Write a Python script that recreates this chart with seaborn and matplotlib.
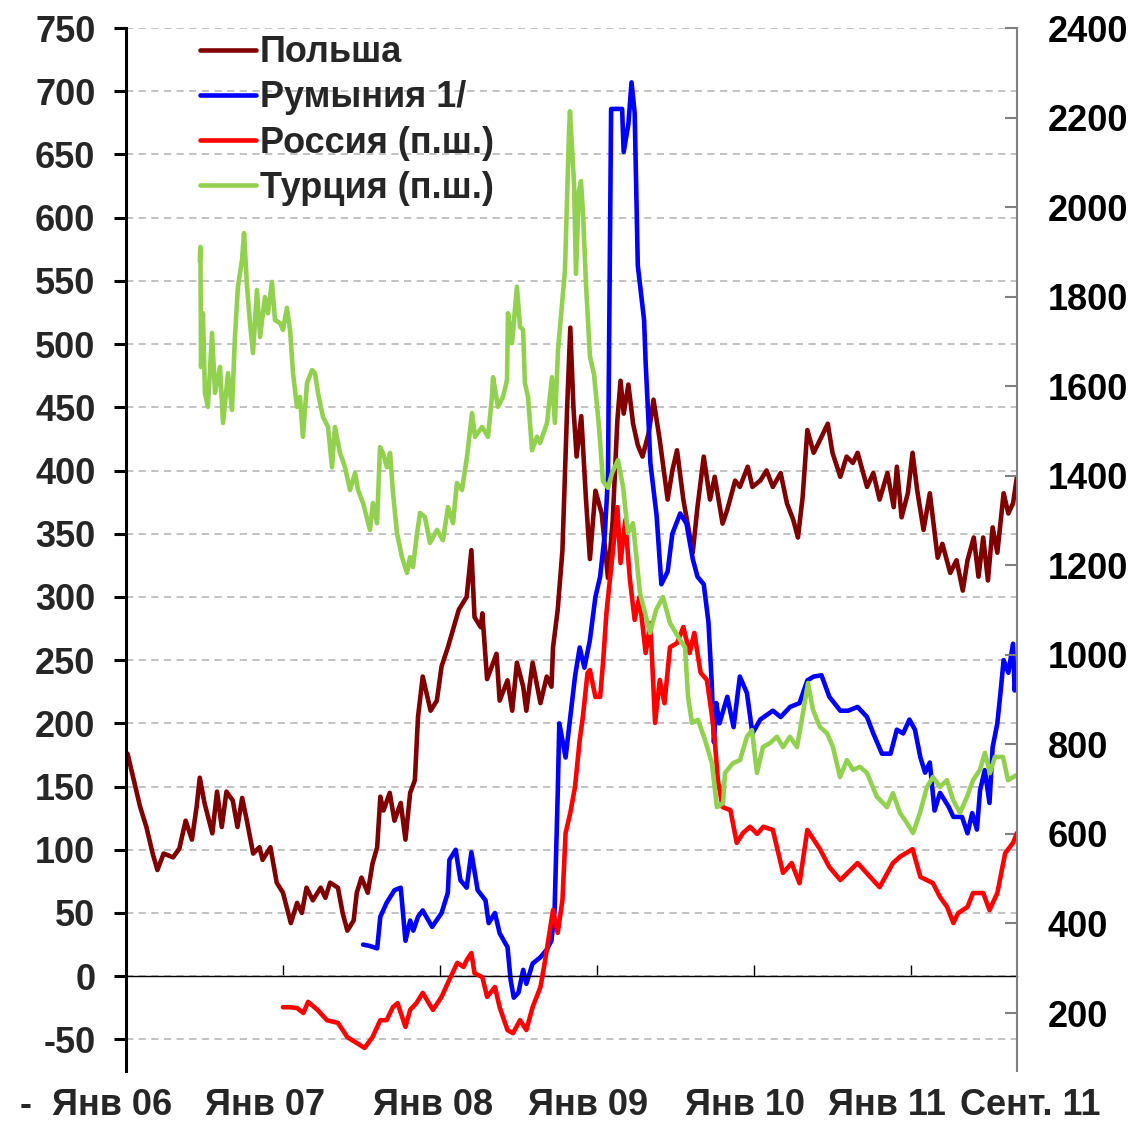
import numpy as np
import seaborn as sns
import matplotlib.pyplot as plt
import matplotlib.transforms as mtransforms

# Poland (left axis)
poland_t = [2006.01, 2006.05, 2006.09, 2006.13, 2006.17, 2006.20, 2006.24, 2006.30, 2006.34, 2006.38,
            2006.42, 2006.45, 2006.47, 2006.50, 2006.55, 2006.58, 2006.61, 2006.64, 2006.68, 2006.71,
            2006.74, 2006.77, 2006.81, 2006.85, 2006.87, 2006.92, 2006.96, 2007.00, 2007.05, 2007.09,
            2007.12, 2007.15, 2007.19, 2007.24, 2007.27, 2007.30, 2007.35, 2007.38, 2007.41, 2007.45,
            2007.47, 2007.50, 2007.54, 2007.57, 2007.60, 2007.62, 2007.64, 2007.68, 2007.71, 2007.75,
            2007.78, 2007.81, 2007.84, 2007.86, 2007.89, 2007.94, 2007.98, 2008.01, 2008.05, 2008.12,
            2008.17, 2008.20, 2008.22, 2008.26, 2008.27, 2008.30, 2008.36, 2008.38, 2008.43, 2008.46,
            2008.49, 2008.53, 2008.55, 2008.59, 2008.64, 2008.68, 2008.71, 2008.72, 2008.75, 2008.78,
            2008.79, 2008.81, 2008.83, 2008.85, 2008.87, 2008.90, 2008.93, 2008.955, 2008.99, 2009.03,
            2009.07, 2009.10, 2009.13, 2009.15, 2009.17, 2009.20, 2009.23, 2009.26, 2009.29, 2009.33,
            2009.36, 2009.40, 2009.45, 2009.48, 2009.51, 2009.55, 2009.61, 2009.64, 2009.68, 2009.72,
            2009.75, 2009.80, 2009.83, 2009.88, 2009.91, 2009.96, 2009.99, 2010.04, 2010.08, 2010.12,
            2010.17, 2010.21, 2010.25, 2010.28, 2010.31, 2010.34, 2010.38, 2010.42, 2010.47, 2010.50,
            2010.55, 2010.59, 2010.63, 2010.66, 2010.72, 2010.76, 2010.80, 2010.85, 2010.89, 2010.91,
            2010.94, 2010.98, 2011.01, 2011.04, 2011.08, 2011.12, 2011.17, 2011.20, 2011.25, 2011.29,
            2011.33, 2011.36, 2011.40, 2011.43, 2011.46, 2011.49, 2011.52, 2011.55, 2011.59, 2011.62,
            2011.65, 2011.675]
poland_v = [176, 155, 134, 118, 97, 84, 97, 94, 101, 123,
            108, 134, 157, 137, 113, 146, 118, 146, 139, 118,
            141, 123, 97, 102, 92, 102, 74, 66, 42, 58,
            50, 70, 60, 70, 62, 74, 70, 50, 36, 44,
            66, 78, 66, 89, 102, 142, 131, 145, 123, 137,
            108, 145, 155, 205, 237, 210, 218, 245, 260, 290,
            300, 337, 284, 276, 287, 235, 255, 218, 234, 210,
            248, 229, 210, 248, 216, 237, 229, 260, 290, 337,
            374, 450, 513, 450, 411, 443, 377, 330, 384, 366,
            315, 360, 440, 471, 445, 468, 437, 420, 411, 430,
            456, 424, 377, 400, 416, 377, 335, 371, 411, 377,
            395, 358, 369, 392, 387, 403, 387, 392, 400, 387,
            398, 374, 361, 347, 379, 432, 414, 424, 437, 414,
            395, 411, 406, 414, 387, 398, 377, 398, 371, 403,
            363, 382, 414, 384, 353, 382, 331, 342, 319, 329,
            305, 329, 347, 316, 347, 313, 355, 335, 382, 366,
            374, 395]

# Romania (left axis)
romania_t = [2007.51, 2007.55, 2007.60, 2007.62, 2007.66, 2007.71, 2007.75, 2007.78, 2007.81, 2007.83,
             2007.86, 2007.89, 2007.95, 2008.01, 2008.05, 2008.06, 2008.10, 2008.13, 2008.17, 2008.20,
             2008.24, 2008.29, 2008.31, 2008.35, 2008.38, 2008.43, 2008.45, 2008.47, 2008.50, 2008.53,
             2008.55, 2008.59, 2008.64, 2008.68, 2008.71, 2008.73, 2008.75, 2008.76, 2008.80, 2008.83,
             2008.86, 2008.89, 2008.92, 2008.955, 2008.99, 2009.02, 2009.05, 2009.07, 2009.09, 2009.13,
             2009.16, 2009.17, 2009.20, 2009.22, 2009.24, 2009.26, 2009.30, 2009.31, 2009.33, 2009.34,
             2009.38, 2009.41, 2009.45, 2009.48, 2009.53, 2009.57, 2009.61, 2009.64, 2009.68, 2009.71,
             2009.73, 2009.745, 2009.76, 2009.78, 2009.83, 2009.87, 2009.91, 2009.955, 2009.99, 2010.04,
             2010.12, 2010.17, 2010.23, 2010.29, 2010.34, 2010.38, 2010.43, 2010.48, 2010.55, 2010.60,
             2010.66, 2010.72, 2010.76, 2010.815, 2010.87, 2010.91, 2010.95, 2010.99, 2011.025, 2011.06,
             2011.09, 2011.12, 2011.15, 2011.185, 2011.24, 2011.27, 2011.325, 2011.36, 2011.39, 2011.42,
             2011.44, 2011.47, 2011.50, 2011.52, 2011.55, 2011.57, 2011.59, 2011.62, 2011.65, 2011.66,
             2011.675]
romania_v = [25, 24, 22, 47, 58, 68, 70, 28, 44, 36,
             47, 52, 39, 50, 66, 92, 100, 76, 70, 98,
             68, 60, 42, 50, 34, 23, -3, -17, -13, 5,
             -6, 10, 15, 21, 28, 52, 145, 200, 173, 205,
             237, 260, 244, 266, 300, 316, 350, 395, 686, 686,
             686, 652, 674, 707, 683, 562, 519, 485, 434, 406,
             364, 310, 320, 350, 366, 358, 330, 316, 310, 280,
             234, 185, 216, 200, 221, 197, 237, 224, 192, 203,
             210, 205, 213, 216, 234, 237, 238, 221, 210, 210,
             213, 205, 192, 176, 176, 195, 192, 203, 195, 173,
             161, 169, 131, 145, 134, 126, 126, 113, 129, 116,
             147, 163, 137, 181, 200, 224, 250, 240, 263, 226,
             240]

# Russia (right axis)
russia_t = [2007.00, 2007.045, 2007.09, 2007.13, 2007.16, 2007.22, 2007.28, 2007.35, 2007.41, 2007.47,
            2007.52, 2007.57, 2007.62, 2007.66, 2007.70, 2007.73, 2007.78, 2007.81, 2007.85, 2007.89,
            2007.955, 2008.01, 2008.05, 2008.11, 2008.15, 2008.17, 2008.20, 2008.22, 2008.27, 2008.30,
            2008.35, 2008.38, 2008.43, 2008.465, 2008.51, 2008.55, 2008.59, 2008.64, 2008.67, 2008.70,
            2008.72, 2008.75, 2008.78, 2008.80, 2008.83, 2008.86, 2008.89, 2008.91, 2008.94, 2008.955,
            2008.99, 2009.02, 2009.04, 2009.06, 2009.10, 2009.13, 2009.15, 2009.18, 2009.21, 2009.24,
            2009.27, 2009.31, 2009.34, 2009.37, 2009.40, 2009.43, 2009.465, 2009.51, 2009.55, 2009.59,
            2009.62, 2009.66, 2009.70, 2009.73, 2009.75, 2009.77, 2009.80, 2009.85, 2009.89, 2009.93,
            2009.975, 2010.02, 2010.06, 2010.12, 2010.185, 2010.24, 2010.29, 2010.34, 2010.42, 2010.48,
            2010.55, 2010.66, 2010.74, 2010.80, 2010.885, 2010.93, 2011.01, 2011.06, 2011.14, 2011.185,
            2011.23, 2011.27, 2011.30, 2011.36, 2011.395, 2011.46, 2011.50, 2011.55, 2011.60, 2011.65,
            2011.675]
russia_v = [213, 213, 211, 200, 225, 207, 184, 178, 146, 133,
            122, 146, 184, 184, 213, 222, 169, 207, 222, 245,
            207, 236, 267, 312, 303, 318, 334, 289, 280, 236,
            258, 213, 162, 155, 184, 162, 213, 258, 318, 385,
            430, 379, 452, 602, 647, 705, 810, 861, 960, 966,
            906, 906, 989, 1093, 1227, 1330, 1205, 1301, 1167, 1078,
            1129, 1004, 1071, 848, 944, 892, 1017, 1026, 1062, 1004,
            1049, 960, 944, 870, 810, 720, 660, 653, 580, 602,
            616, 600, 616, 609, 513, 535, 490, 609, 566, 526,
            497, 535, 504, 481, 535, 549, 566, 504, 490, 459,
            437, 401, 423, 437, 468, 468, 430, 468, 557, 580,
            602]

# Turkey (right axis)
turkey_t = [2006.470, 2006.474, 2006.478, 2006.490, 2006.503, 2006.522, 2006.548, 2006.567, 2006.599, 2006.618,
            2006.650, 2006.675, 2006.694, 2006.713, 2006.739, 2006.752, 2006.771, 2006.790, 2006.809, 2006.834,
            2006.854, 2006.885, 2006.904, 2006.930, 2006.949, 2006.981, 2007.000, 2007.025, 2007.045, 2007.064,
            2007.089, 2007.108, 2007.127, 2007.153, 2007.185, 2007.204, 2007.223, 2007.255, 2007.287, 2007.312,
            2007.331, 2007.363, 2007.395, 2007.427, 2007.459, 2007.478, 2007.510, 2007.554, 2007.573, 2007.599,
            2007.618, 2007.637, 2007.662, 2007.682, 2007.701, 2007.726, 2007.758, 2007.790, 2007.809, 2007.828,
            2007.854, 2007.873, 2007.904, 2007.936, 2007.981, 2008.019, 2008.051, 2008.083, 2008.108, 2008.140,
            2008.172, 2008.204, 2008.223, 2008.268, 2008.306, 2008.331, 2008.338, 2008.369, 2008.401, 2008.427,
            2008.433, 2008.459, 2008.490, 2008.510, 2008.529, 2008.541, 2008.561, 2008.586, 2008.618, 2008.637,
            2008.682, 2008.713, 2008.732, 2008.752, 2008.783, 2008.796, 2008.822, 2008.828, 2008.854, 2008.866,
            2008.885, 2008.898, 2008.911, 2008.930, 2008.955, 2008.981, 2009.013, 2009.038, 2009.070, 2009.096,
            2009.134, 2009.166, 2009.197, 2009.229, 2009.274, 2009.306, 2009.338, 2009.376, 2009.420, 2009.465,
            2009.529, 2009.561, 2009.580, 2009.605, 2009.643, 2009.688, 2009.732, 2009.764, 2009.803, 2009.815,
            2009.866, 2009.911, 2009.955, 2009.987, 2010.019, 2010.057, 2010.102, 2010.146, 2010.185, 2010.229,
            2010.274, 2010.312, 2010.344, 2010.376, 2010.420, 2010.465, 2010.503, 2010.548, 2010.592, 2010.631,
            2010.675, 2010.720, 2010.783, 2010.847, 2010.885, 2010.930, 2010.975, 2011.013, 2011.057, 2011.102,
            2011.140, 2011.185, 2011.229, 2011.268, 2011.312, 2011.357, 2011.395, 2011.439, 2011.471, 2011.503,
            2011.535, 2011.586, 2011.618, 2011.675]
turkey_v = [1880, 1911, 1643, 1763, 1585, 1554, 1719, 1585, 1643, 1518,
            1629, 1547, 1710, 1822, 1882, 1942, 1822, 1741, 1674, 1815,
            1710, 1799, 1763, 1833, 1748, 1741, 1726, 1775, 1726, 1629,
            1554, 1576, 1487, 1607, 1636, 1629, 1585, 1531, 1509, 1419,
            1509, 1451, 1419, 1368, 1406, 1368, 1339, 1279, 1339, 1294,
            1464, 1451, 1419, 1451, 1361, 1272, 1218, 1183, 1218, 1196,
            1272, 1317, 1308, 1250, 1279, 1256, 1330, 1294, 1384, 1368,
            1442, 1540, 1487, 1509, 1487, 1576, 1620, 1554, 1576, 1614,
            1763, 1696, 1822, 1732, 1726, 1607, 1576, 1457, 1487, 1473,
            1518, 1620, 1518, 1681, 1808, 1859, 2170, 2214, 2051, 1851,
            2036, 2058, 1987, 1828, 1667, 1627, 1509, 1388, 1373, 1406,
            1435, 1375, 1272, 1294, 1138, 1093, 1049, 1100, 1129, 1071,
            1033, 1017, 906, 848, 855, 810, 758, 660, 669, 736,
            758, 765, 817, 832, 736, 794, 803, 817, 794, 817,
            794, 870, 937, 877, 839, 825, 794, 727, 765, 743,
            750, 736, 683, 660, 691, 647, 624, 602, 647, 705,
            727, 705, 720, 676, 647, 683, 720, 743, 781, 736,
            772, 772, 720, 732]

year_ticks = [2007, 2008, 2009, 2010, 2011]
xlabel_pos = [2005.36, 2005.91, 2006.885, 2007.955, 2008.94, 2009.94, 2010.85, 2011.76]
xlabel_txt = ['-', 'Янв 06', 'Янв 07', 'Янв 08', 'Янв 09', 'Янв 10', 'Янв 11', 'Сент. 11']

sns.set_style("white")
plt.rcParams['font.family'] = ['Liberation Sans', 'DejaVu Sans']
plt.rcParams['font.weight'] = 'bold'
plt.rcParams['axes.unicode_minus'] = False
FS = 26
LW = 3.3

fig = plt.figure(figsize=(11.35, 11.21), dpi=100)
ax = fig.add_axes([0.111, 0.0446, 0.785, 0.9304])
ax2 = ax.twinx()

sns.lineplot(x=poland_t, y=poland_v, ax=ax, color='#7f0000', linewidth=LW, label='Польша', legend=False)
sns.lineplot(x=romania_t, y=romania_v, ax=ax, color='#0000ff', linewidth=LW, label='Румыния 1/', legend=False)
sns.lineplot(x=russia_t, y=russia_v, ax=ax2, color='#ff0000', linewidth=LW, label='Россия (п.ш.)', legend=False)
sns.lineplot(x=turkey_t, y=turkey_v, ax=ax2, color='#92d050', linewidth=LW, label='Турция (п.ш.)', legend=False)

ax.set_xlim(2006.0, 2011.675)
ax.set_ylim(-75, 750)
ax2.set_ylim(70.5, 2400)
ax.set_yticks(np.arange(-50, 751, 50))
ax2.set_yticks(np.arange(200, 2401, 200))
ax.set_xticks(year_ticks)
ax.set_xlabel('')
ax.set_ylabel('')
ax2.set_ylabel('')

# dashed grid
ax.grid(axis='y', color='#bdbdbd', linestyle=(0, (4, 3)), linewidth=1.3)
ax.grid(axis='x', visible=False)
ax.set_axisbelow(True)

# spines
ax.spines['top'].set_visible(False)
ax.spines['right'].set_visible(False)
ax.spines['left'].set_linewidth(2.2)
ax.spines['left'].set_color('black')
ax.spines['bottom'].set_position(('data', 0))
ax.spines['bottom'].set_linewidth(1.0)
ax.spines['bottom'].set_color('black')
for s in ['left', 'top', 'bottom']:
    ax2.spines[s].set_visible(False)
ax2.spines['right'].set_color('#808080')
ax2.spines['right'].set_linewidth(1.5)

ax.tick_params(axis='y', left=True, direction='out', length=9, width=2.2, color='black',
               labelsize=FS, pad=13)
ax.tick_params(axis='x', bottom=True, direction='in', length=8, width=1, color='black',
               labelbottom=False)
ax2.tick_params(axis='y', right=True, direction='in', length=9, width=1.5, color='#808080',
                labelcolor='black', labelsize=FS, pad=22)
ax2.tick_params(axis='x', bottom=False, labelbottom=False)
for lab in ax.get_yticklabels() + ax2.get_yticklabels():
    lab.set_fontweight('bold')

# category-style date labels below the plot
trans = mtransforms.blended_transform_factory(ax.transData, ax.transAxes)
for xp, txt in zip(xlabel_pos, xlabel_txt):
    ax.text(xp, -0.033, txt, transform=trans, ha='center', va='center',
            fontsize=FS, fontweight='bold', clip_on=False)

h1, l1 = ax.get_legend_handles_labels()
h2, l2 = ax2.get_legend_handles_labels()
ax2.legend(h1 + h2, l1 + l2, loc='upper left', bbox_to_anchor=(0.083, 0.993), frameon=False,
           prop={'size': FS, 'weight': 'bold'}, handlelength=1.55, handletextpad=0.1,
           labelspacing=0.28, borderpad=0, borderaxespad=0)

fig.savefig('out.png', dpi=100)
